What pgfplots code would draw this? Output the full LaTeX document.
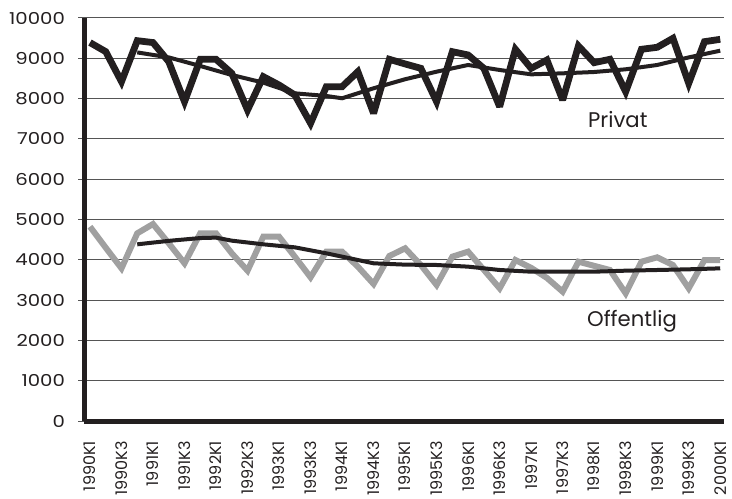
\documentclass[border=0pt]{standalone}
\usepackage{pgfplots}
\pgfplotsset{compat=1.18}
\usepackage{fontspec}
\setmainfont{Poppins}
\newfontfamily\yfont[FakeStretch=1.2]{Poppins}

\definecolor{ink}{HTML}{231F20}
\definecolor{lightgrey}{HTML}{A0A0A0}
\definecolor{gridgrey}{HTML}{555555}

\begin{document}
\begin{tikzpicture}
\begin{axis}[
    name=ax,
    scale only axis,
    width=320pt,
    height=201.5pt,
    xmin=-0.38, xmax=40.24,
    ymin=0, ymax=10000,
    axis x line*=bottom,
    axis y line*=left,
    axis line style={ink, line width=2.5pt},
    ytick={0,1000,...,10000},
    xtick={0,2,...,40},
    xticklabels={1990K1,1990K3,1991K1,1991K3,1992K1,1992K3,1993K1,1993K3,1994K1,1994K3,
                 1995K1,1995K3,1996K1,1996K3,1997K1,1997K3,1998K1,1998K3,1999K1,1999K3,2000K1},
    x tick label style={rotate=90, anchor=east, font=\fontsize{8}{9}\selectfont, text=ink},
    y tick label style={font=\yfont\fontsize{8.2}{9}\selectfont, text=ink},
    yticklabel style={/pgf/number format/.cd, 1000 sep={}, assume math mode=true},
    /pgf/number format/assume math mode=true,
    scaled y ticks=false,
    ymajorgrids=true,
    grid style={gridgrey, line width=0.5pt},
    major tick length=3pt,
    tick align=outside,
    xtick style={draw=none},
    ytick style={gridgrey, line width=0.5pt},
    xticklabel shift=3.5pt,
    yticklabel shift=3pt,
    clip=false,
]

% Privat
\addplot[ink, line width=3.4pt, line join=miter, miter limit=3] coordinates {
(0,9390) (1,9165) (2,8420) (3,9437) (4,9390) (5,8915) (6,7923) (7,8975) (8,8975) (9,8627)
(10,7717) (11,8544) (12,8337) (13,8089) (14,7387) (15,8296) (16,8296) (17,8668) (18,7635) (19,8975)
(20,8860) (21,8751) (22,7923) (23,9164) (24,9082) (25,8750) (26,7800) (27,9223) (28,8751) (29,8958)
(30,7965) (31,9305) (32,8892) (33,8975) (34,8171) (35,9223) (36,9273) (37,9496) (38,8379) (39,9412)
(40,9471)
};
% Privat trend
\addplot[ink, line width=2pt] coordinates {
(3,9146) (5,9022) (7,8809) (9,8586) (11,8396) (13,8131) (15,8065) (16,8008) (18,8256)
(20,8480) (22,8668) (24,8834) (26,8710) (28,8602) (30,8627) (32,8660) (34,8727) (36,8834)
(38,9022) (40,9189)
};

% Offentlig
\addplot[lightgrey, line width=3pt, line join=miter, miter limit=3] coordinates {
(0,4822) (1,4300) (2,3788) (3,4657) (4,4888) (5,4409) (6,3913) (7,4657) (8,4657) (9,4161)
(10,3730) (11,4574) (12,4574) (13,4078) (14,3565) (15,4202) (16,4202) (17,3830) (18,3400) (19,4094)
(20,4285) (21,3870) (22,3375) (23,4078) (24,4202) (25,3750) (26,3292) (27,3995) (28,3800) (29,3550)
(30,3209) (31,3953) (32,3850) (33,3747) (34,3168) (35,3953) (36,4061) (37,3871) (38,3292) (39,3995)
(40,3995)
};
% Offentlig trend
\addplot[ink, line width=2pt] coordinates {
(3,4384) (5,4470) (7,4540) (8,4550) (9,4475) (11,4384) (13,4309) (15,4161) (17,3995) (18,3913)
(20,3880) (22,3871) (24,3830) (26,3747) (28,3705) (30,3705) (32,3705) (34,3730) (36,3747)
(38,3764) (40,3788)
};

\node[font=\fontsize{10.6}{12}\selectfont, text=ink] at (axis cs:33.5,7470) {Privat};
\node[font=\fontsize{10.6}{12}\selectfont, text=ink] at (axis cs:34.4,2480) {Offentlig};
\end{axis}
\pgfresetboundingbox
\path[use as bounding box] ([xshift=-42pt,yshift=-38.5pt]ax.south west) rectangle ([xshift=4pt,yshift=9pt]ax.north east);
\end{tikzpicture}
\end{document}
